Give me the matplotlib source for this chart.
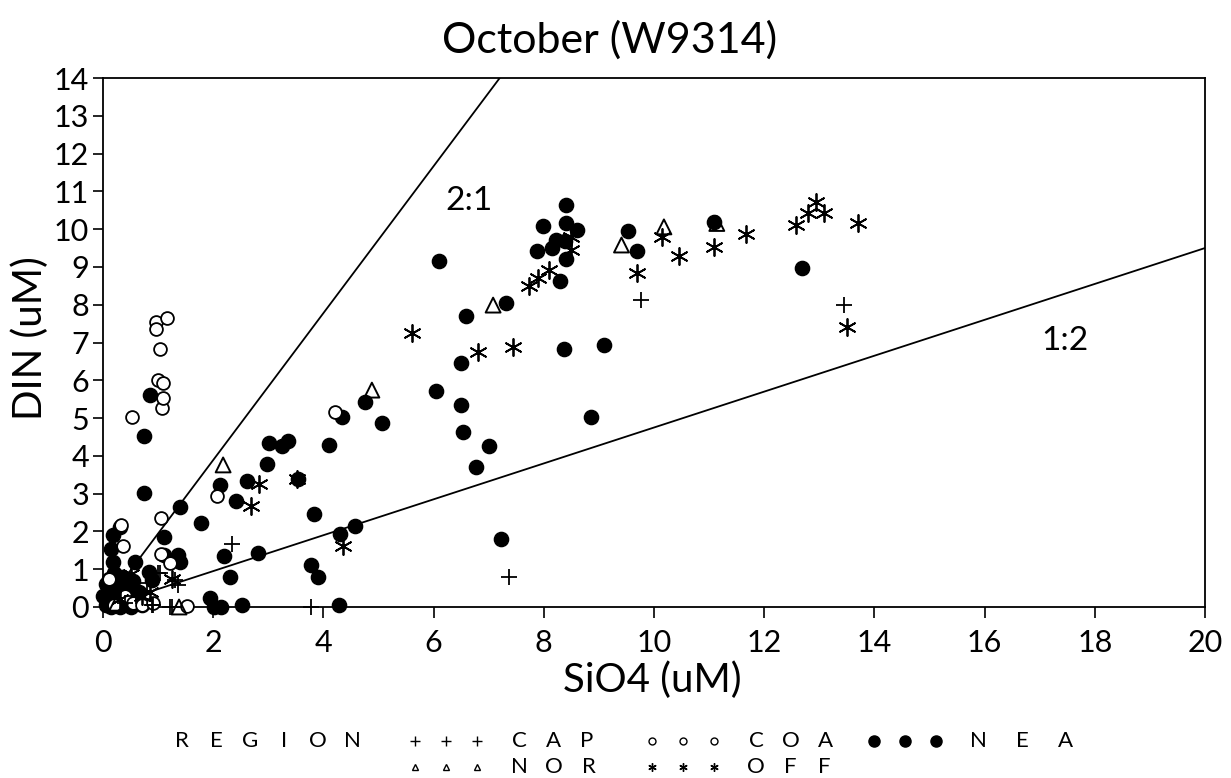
import numpy as np
import matplotlib.pyplot as plt
from matplotlib.lines import Line2D

# ---- data (SiO4 uM, DIN uM) ----
cap_x = [0.20, 0.40, 0.60, 0.80, 0.89, 0.91, 1.00, 1.04, 1.22, 1.25, 1.31, 1.37, 2.35, 3.77, 7.36, 9.76, 13.44]
cap_y = [0.40, 0.10, 0.30, 0.63, 0.05, 0.05, 0.89, 0.91, 0.00, 0.00, 0.71, 0.58, 1.68, 0.00, 0.79, 8.12, 7.99]

coa_x = [0.10, 0.20, 0.32, 0.36, 0.40, 0.52, 0.55, 0.70, 0.90, 0.97, 0.97, 1.00, 1.03, 1.05,
         1.05, 1.07, 1.08, 1.09, 1.16, 1.22, 1.52, 2.07, 4.21]
coa_y = [0.75, 0.05, 2.18, 1.62, 0.30, 5.02, 0.10, 0.05, 0.10, 7.53, 7.35, 6.00, 6.84, 2.35,
         1.39, 5.26, 5.52, 5.93, 7.66, 1.17, 0.03, 2.95, 5.17]

nea_x = [0.05, 0.10, 0.15, 0.20, 0.25, 0.30, 0.35, 0.40, 0.45, 0.50, 0.55, 0.60, 0.10, 0.20,
         0.30, 0.00, 0.05, 0.15, 0.35, 0.50, 0.65, 0.70, 0.25, 0.40,
         0.15, 0.19, 0.19, 0.31, 0.58, 0.84, 0.89, 1.10, 1.10, 1.36, 1.40, 1.40, 0.74, 0.74, 0.86,
         1.78, 1.95, 2.02, 2.15, 2.12, 2.20, 2.30, 2.41, 2.52, 2.62, 2.82, 2.97, 3.02, 3.24, 3.36,
         3.54, 3.77, 3.83, 3.91, 4.10, 4.28, 4.31, 4.34, 4.57, 4.75, 5.06,
         6.10, 6.05, 6.49, 6.50, 6.53, 6.59, 6.77, 7.01, 7.22, 7.31, 7.88, 7.98, 8.14, 8.23, 8.29,
         8.36, 8.38, 8.40, 8.41, 8.41, 8.61, 8.85, 9.09, 9.53, 9.70, 11.09, 12.68]
nea_y = [0.05, 0.20, 0.40, 0.10, 0.30, 0.60, 0.15, 0.45, 0.05, 0.30, 0.70, 0.15, 0.75, 0.90,
         0.00, 0.30, 0.60, 0.00, 0.80, 0.00, 0.40, 0.05, 0.55, 0.20,
         1.53, 1.20, 1.90, 2.11, 1.18, 0.93, 0.71, 1.86, 1.38, 1.38, 1.20, 2.64, 3.02, 4.52, 5.60,
         2.21, 0.23, 0.00, 0.00, 3.23, 1.36, 0.80, 2.81, 0.04, 3.34, 1.44, 3.78, 4.35, 4.27, 4.40,
         3.40, 1.10, 2.46, 0.80, 4.29, 0.05, 1.93, 5.03, 2.15, 5.43, 4.86,
         9.15, 5.71, 6.46, 5.34, 4.62, 7.70, 3.70, 4.26, 1.80, 8.05, 9.43, 10.09, 9.49, 9.71, 8.62,
         6.84, 9.69, 9.21, 10.63, 10.15, 9.97, 5.02, 6.93, 9.96, 9.43, 10.19, 8.96]

nor_x = [0.25, 1.38, 2.18, 4.88, 7.08, 9.41, 10.18, 11.14]
nor_y = [0.10, 0.00, 3.76, 5.74, 7.99, 9.58, 10.06, 10.15]

off_x = [0.30, 0.51, 0.70, 0.86, 1.25, 2.68, 2.84, 3.52, 4.35, 5.61, 6.81, 7.45, 7.74, 7.90, 8.10,
         8.50, 8.50, 9.70, 10.14, 10.46, 11.08, 11.67, 12.58, 12.80, 12.94, 13.09, 13.50, 13.71]
off_y = [0.20, 0.87, 0.30, 0.40, 0.75, 2.67, 3.25, 3.40, 1.62, 7.25, 6.75, 6.87, 8.49, 8.72, 8.93,
         9.78, 9.44, 8.83, 9.80, 9.29, 9.53, 9.87, 10.12, 10.42, 10.72, 10.44, 7.42, 10.15]

# hand-drawn ratio lines as they appear on the scan
ratio_labels = ['2:1', '1:2']
ratio_ends = [(7.2, 14.0), (20.0, 9.5)]
ratio_text_pos = [(6.65, 10.75), (17.45, 7.05)]

plt.rcParams['font.family'] = ['Lato', 'DejaVu Sans']

fig = plt.figure(figsize=(12.31, 7.78), dpi=100)
ax = fig.add_axes([103/1231, 1-607/778, (1205-103)/1231, (607-78)/778])

for (ex, ey), lab, (tx, ty) in zip(ratio_ends, ratio_labels, ratio_text_pos):
    ax.plot([0, ex], [0, ey], color='black', lw=1.3, zorder=1)
    ax.text(tx, ty, lab, fontsize=24, ha='center', va='center')

ast = (6, 2, 0)
ax.scatter(nea_x, nea_y, s=105, marker='o', c='black', zorder=3, clip_on=False)
ax.scatter(coa_x, coa_y, s=85, marker='o', facecolors='white', edgecolors='black', linewidths=1.3, zorder=3, clip_on=False)
ax.scatter(nor_x, nor_y, s=115, marker='^', facecolors='none', edgecolors='black', linewidths=1.4, zorder=3, clip_on=False)
ax.scatter(off_x, off_y, s=150, marker=ast, c='black', linewidths=1.3, zorder=3, clip_on=False)
ax.scatter(cap_x, cap_y, s=130, marker='+', c='black', linewidths=1.3, zorder=3, clip_on=False)

ax.set_xlim(0, 20)
ax.set_ylim(0, 14)
ax.set_xticks(np.arange(0, 21, 2))
ax.set_yticks(np.arange(0, 15, 1))
ax.tick_params(direction='out', width=1.2, labelsize=22)
ax.tick_params(axis='x', length=8, pad=8)
ax.tick_params(axis='y', length=7, pad=3)
for sp in ax.spines.values():
    sp.set_linewidth(1.3)

fig.text(610/1231, 1-40/778, 'October (W9314)', fontsize=31, ha='center', va='center')
fig.text(652/1231, 1-680/778, 'SiO4 (uM)', fontsize=29, ha='center', va='center')
fig.text(30/1231, 1-338/778, 'DIN (uM)', fontsize=29, ha='center', va='center', rotation=90)

# legend drawn by hand in figure pixels
def fx(p):
    return p/1231
def fy(p):
    return 1-p/778

def spaced(text, x0, ypix, pitch):
    for i, ch in enumerate(text):
        fig.text(fx(x0 + i*pitch), fy(ypix), ch, fontsize=16, ha='center', va='center')

spaced('REGION', 182, 741, 34)
rows = [
    (741, [(415, '+', 'CAP', 7, 'black', 34), (652, 'o', 'COA', 5, 'none', 35), (874, 'o', 'NEA', 8, 'black', 44)]),
    (767, [(415, '^', 'NOR', 5, 'none', 35), (652, ast, 'OFF', 6, 'black', 34)]),
]
for ypix, items in rows:
    for x0, mk, name, ms, fc, pitch in items:
        for k in range(3):
            fig.add_artist(Line2D([fx(x0 + k*31)], [fy(ypix)], marker=mk, markersize=ms,
                                  markerfacecolor=fc, markeredgecolor='black', color='black',
                                  markeredgewidth=1.0, linestyle='none', transform=fig.transFigure))
        spaced(name, x0 + 104, ypix, pitch)

fig.savefig('out.png', dpi=100)
